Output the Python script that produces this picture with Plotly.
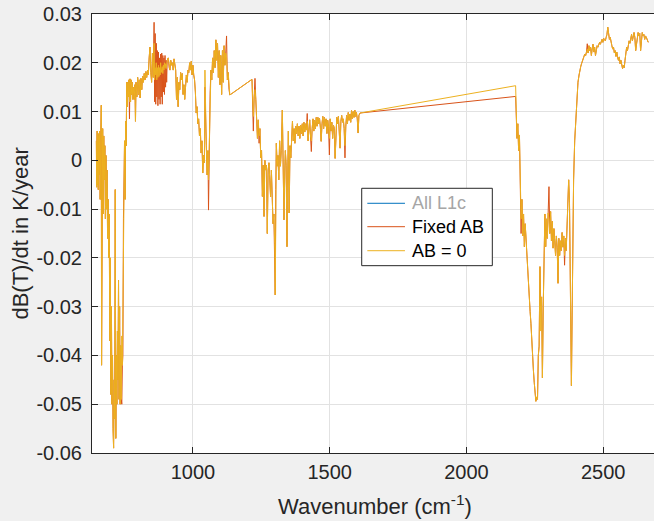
import plotly.graph_objects as go

# ---------------- data ----------------
wn_a = [647, 648, 650, 651, 653, 654, 656, 657, 659, 661,
        663, 665, 666, 668, 670, 672, 674, 676, 678, 680,
        682, 684, 686, 688, 690, 692, 694, 696, 698, 700,
        702, 704, 706, 708, 710, 712, 714, 716, 718, 720,
        722, 724, 726, 728, 730, 732, 734, 736, 738, 740,
        742, 744, 746, 748, 750, 752, 754, 756, 758, 760]
ab0_a = [0.004, -0.0055, 0.006, -0.005, 0.0055, -0.006, 0.005, -0.003, 0.006, -0.008,
         0.004, 0.0113, -0.042, 0.002, 0.0065, -0.011, 0.005, -0.004, 0.003, -0.012,
         0.001, -0.01, -0.002, -0.016, -0.008, -0.02, -0.011, -0.037, -0.02, -0.048,
         -0.03, -0.05, -0.04, -0.055, -0.059, -0.045, -0.053, -0.006, -0.057, -0.04,
         -0.05, -0.035, -0.045, -0.0246, -0.049, -0.03, -0.05, -0.038, -0.049, -0.036,
         -0.042, -0.026, -0.012, -0.003, 0.004, -0.008, 0.008, 0.003, 0.016, 0.011]

wn_b = [762, 764, 766, 768, 770, 772, 774, 776, 778, 780,
        782, 785, 788, 790, 792, 795, 798, 801, 804, 807,
        810, 813, 816, 819, 822, 825, 828, 831, 834, 837,
        840, 843, 846, 849, 852, 855]
ab0_b = [0.016, 0.013, 0.0165, 0.012, 0.0167, 0.012, 0.0165, 0.0135, 0.016, 0.0125,
         0.015, 0.0125, 0.0155, 0.008, 0.016, 0.013, 0.017, 0.0135, 0.0165, 0.0128,
         0.0168, 0.0145, 0.0172, 0.016, 0.0178, 0.0165, 0.0182, 0.017, 0.0185, 0.0175,
         0.021, 0.0232, 0.018, 0.016, 0.022, 0.017]

wn_c = [858, 860, 862, 864, 866, 868, 870, 872, 874, 876,
        878, 880, 882, 884, 886, 888, 890, 892, 894, 896,
        898, 900, 902, 904,
        906, 910, 913, 916, 919, 922, 925, 928, 931, 934,
        937, 940, 943, 946, 949, 952, 955, 958, 961, 964,
        967, 970, 973, 976, 979, 982, 985, 988, 991, 994,
        997, 1000]
ab0_c = [0.024, 0.0165, 0.019, 0.0175, 0.02, 0.0165, 0.019, 0.017, 0.0195, 0.0172,
         0.019, 0.0175, 0.02, 0.018, 0.0185, 0.0192, 0.0178, 0.0195, 0.0185, 0.02,
         0.019, 0.0198, 0.0188, 0.02,
         0.0205, 0.021, 0.019, 0.0185, 0.0205, 0.0195, 0.02, 0.0185, 0.0208, 0.019,
         0.0185, 0.0125, 0.017, 0.011, 0.016, 0.0145, 0.018, 0.0165, 0.0178, 0.0135,
         0.0155, 0.0125, 0.0165, 0.0175, 0.016, 0.0185, 0.018, 0.02, 0.0185, 0.0203,
         0.0175, 0.0195]

wn_d = [1003, 1006, 1009, 1012, 1015, 1018, 1021, 1024, 1027, 1030,
        1033, 1036, 1039, 1042, 1044, 1046, 1049, 1052, 1055, 1057,
        1060, 1063, 1066, 1069, 1072, 1075, 1078, 1081, 1084, 1087,
        1090, 1093, 1096, 1099, 1102, 1105, 1108, 1111, 1114, 1117,
        1120, 1123, 1126, 1129, 1132, 1135]
ab0_d = [0.0175, 0.0165, 0.014, 0.0097, 0.011, 0.0075, 0.0085, 0.005, 0.0065, 0.0015,
         0.004, -0.0026, 0.001, -0.0005, 0.0185, 0.008, 0.003, -0.003, 0.002, -0.004,
         0.005, 0.014, 0.0185, 0.0165, 0.021, 0.018, 0.0225, 0.019, 0.0247, 0.0205,
         0.024, 0.017, 0.0225, 0.0155, 0.0215, 0.0135, 0.0225, 0.016, 0.0235, 0.0195,
         0.022, 0.021, 0.0165, 0.018, 0.0145, 0.0134]

wn_e = [1216, 1219, 1221, 1224, 1227, 1230, 1233, 1236, 1239, 1242,
        1245, 1248, 1251, 1254, 1257, 1260, 1263, 1266, 1269, 1272,
        1275, 1278, 1281, 1284, 1287, 1290, 1293, 1296, 1299, 1301,
        1303, 1305, 1308, 1311, 1314, 1317, 1320, 1323, 1327, 1330,
        1333, 1336, 1338, 1341, 1344, 1346, 1349, 1352, 1355, 1358,
        1361, 1364, 1367, 1370, 1373, 1376, 1379, 1382, 1385, 1388,
        1391, 1394, 1397, 1400, 1403, 1406, 1409, 1412, 1415, 1418,
        1421, 1424, 1427, 1430, 1433, 1436, 1439, 1442, 1445, 1448,
        1451, 1454, 1457, 1460, 1463, 1466, 1469, 1472, 1475, 1478,
        1481, 1484, 1487, 1490, 1493, 1496, 1499, 1502, 1505, 1508,
        1511, 1514, 1517, 1520, 1523, 1526, 1529, 1532, 1535, 1538,
        1541, 1544, 1547, 1550, 1553, 1556, 1559, 1562, 1565, 1568,
        1571, 1574, 1577, 1580, 1583, 1586, 1589, 1592, 1595, 1598,
        1601, 1604, 1607, 1611]
ab0_e = [0.0166, 0.0103, 0.009, 0.013, 0.0145, 0.0125, 0.0085, 0.0045, 0.0083, 0.005,
         0.0065, 0.0005, 0.002, -0.0074, -0.001, -0.0115, 0.0, -0.002, -0.001, -0.015,
         -0.002, -0.0005, -0.004, -0.0075, -0.002, -0.0105, -0.013, -0.011, -0.017, -0.0276,
         -0.006, 0.0035, -0.0012, 0.001, -0.004, 0.004, -0.0012, 0.002, 0.0103, -0.005,
         -0.0122, -0.002, 0.002, -0.001, -0.0177, -0.006, 0.006, -0.0108, 0.003, 0.0005,
         0.006, 0.008, 0.004, 0.0065, 0.0035, 0.007, 0.0055, 0.0075, 0.005, 0.007,
         0.0045, 0.0072, 0.0055, 0.0075, 0.005, 0.0078, 0.0058, 0.0075, 0.0062, 0.008,
         0.004, 0.0068, 0.0083, 0.005, 0.004, 0.0065, 0.0085, 0.006, 0.0082, 0.0065,
         0.0088, 0.007, 0.0088, 0.0075, 0.0086, 0.0068, 0.0039, 0.0075, 0.009, 0.0065,
         0.0088, 0.007, 0.0085, 0.0055, 0.0082, 0.0068, 0.0045, 0.0085, 0.006, 0.0078,
         0.0045, 0.0072, 0.0065, 0.0004, 0.007, 0.0088, 0.0075, 0.009, 0.006, 0.0025,
         0.008, 0.0092, 0.0078, 0.0085, 0.0065, 0.003, 0.007, 0.0092, 0.0075, 0.0098,
         0.0082, 0.0095, 0.0078, 0.0102, 0.0085, 0.01, 0.0088, 0.0103, 0.009, 0.0098,
         0.0085, 0.0056, 0.0092, 0.0097]

wn_f = [2180, 2182, 2185, 2188, 2191, 2194, 2197, 2200, 2203, 2206,
        2209, 2212, 2215, 2218, 2221, 2224, 2227, 2230, 2233, 2236,
        2239, 2242, 2245, 2248, 2251, 2254, 2257, 2260, 2263, 2266,
        2269, 2272, 2275, 2278, 2281, 2284, 2287, 2290, 2293, 2296,
        2299, 2302, 2305, 2308, 2311, 2314, 2317, 2320, 2323, 2326,
        2329, 2332, 2335, 2338, 2341, 2344, 2347, 2350, 2353, 2356,
        2359, 2362, 2365, 2368, 2371, 2374, 2377, 2380, 2384, 2386,
        2389, 2392, 2396, 2400, 2404, 2408]
ab0_f = [0.0153, 0.008, 0.0045, 0.0075, 0.002, 0.0052, -0.006, -0.012, -0.008, -0.0155,
         -0.011, -0.0177, -0.013, -0.016, -0.0215, -0.0224, -0.025, -0.0299, -0.031, -0.0334,
         -0.0375, -0.0409, -0.043, -0.0455, -0.047, -0.0494, -0.0485, -0.049, -0.04, -0.0381,
         -0.0218, -0.035, -0.028, -0.0446, -0.03, -0.0155, -0.011, -0.0177, -0.012, -0.016,
         -0.0108, -0.012, -0.015, -0.0105, -0.0165, -0.0125, -0.018, -0.014, -0.0165, -0.0195,
         -0.0155, -0.0178, -0.0252, -0.016, -0.0195, -0.0165, -0.0185, -0.0148, -0.0178, -0.0155,
         -0.0195, -0.016, -0.0185, -0.012, -0.0095, -0.004, -0.0085, -0.03, -0.0462, -0.035,
         -0.015, -0.004, 0.004, 0.009, 0.0125, 0.016]

wn_g = [2412, 2415, 2418, 2421, 2424, 2427, 2430, 2433, 2436, 2439,
        2442, 2445, 2448, 2451, 2454, 2457, 2460, 2463, 2466, 2469,
        2472, 2475, 2478, 2481, 2484, 2487, 2490, 2493, 2496, 2499,
        2502, 2505, 2508, 2511, 2514, 2517, 2520, 2523, 2526, 2529,
        2532, 2535, 2538, 2541, 2544, 2547, 2550, 2553, 2556, 2559,
        2562, 2565, 2568, 2571, 2574, 2577, 2580, 2583, 2586, 2589,
        2592, 2595, 2598, 2601, 2604, 2607, 2610, 2613, 2616, 2619,
        2622, 2625, 2628, 2631, 2634, 2637, 2640, 2643, 2646, 2649,
        2652, 2655, 2658, 2661, 2665]
ab0_g = [0.0175, 0.0187, 0.0192, 0.0198, 0.0203, 0.0208, 0.0212, 0.0218, 0.0215, 0.0222,
         0.0228, 0.022, 0.0235, 0.0225, 0.0232, 0.0215, 0.023, 0.0238, 0.0222, 0.0232,
         0.0215, 0.0228, 0.0235, 0.0232, 0.0238, 0.0242, 0.0238, 0.0245, 0.0248, 0.0242,
         0.025, 0.0248, 0.0245, 0.0252, 0.0258, 0.0273, 0.0255, 0.0248, 0.0252, 0.0238,
         0.0235, 0.0228, 0.0232, 0.022, 0.0225, 0.0213, 0.0222, 0.0211, 0.0205, 0.0212,
         0.0198, 0.0205, 0.0192, 0.0188, 0.0195, 0.019, 0.0205, 0.0218, 0.0232, 0.0225,
         0.0238, 0.0245, 0.024, 0.0252, 0.0258, 0.0245, 0.0255, 0.0262, 0.0252, 0.0225,
         0.0238, 0.0258, 0.0262, 0.0255, 0.026, 0.0225, 0.0248, 0.0262, 0.0255, 0.0258,
         0.0248, 0.0255, 0.0252, 0.0245, 0.0242]

# channels where the "Fixed AB" curve departs from "AB = 0"
fixed_diff_wn = [740, 744, 768,
                 858, 860, 862, 864, 866, 868, 870, 872, 874, 876,
                 878, 880, 882, 884, 886, 888, 890, 892, 894, 896,
                 898, 900, 902, 904,
                 1044, 1057, 1123, 1221, 1227, 1242, 1299, 1418, 1433, 1499, 1556,
                 2180, 2182, 2200, 2272, 2302, 2359, 2442]
fixed_diff_val = [-0.05, -0.04, 0.0085,
                  0.0283, 0.012, 0.026, 0.0115, 0.024, 0.013, 0.0225, 0.0112, 0.0222, 0.0125,
                  0.021, 0.0115, 0.0218, 0.013, 0.022, 0.0115, 0.0215, 0.014, 0.021, 0.0135,
                  0.0215, 0.015, 0.0205, 0.016,
                  0.015, -0.0102, 0.0255, 0.006, 0.0168, 0.0035, -0.0205, 0.0096, 0.0018, 0.0011, 0.0005,
                  0.0131, 0.0062, -0.015, -0.03, -0.0054, -0.0215, 0.0239]

x_tick_vals = [1000, 1500, 2000, 2500]
x_tick_text = ["1000", "1500", "2000", "2500"]
y_tick_vals = [0.03, 0.02, 0.01, 0, -0.01, -0.02, -0.03, -0.04, -0.05, -0.06]
y_tick_text = ["0.03", "0.02", "0.01", "0", "-0.01", "-0.02", "-0.03", "-0.04", "-0.05", "-0.06"]

series_names = ["All L1c", "Fixed AB", "AB = 0"]
series_colors = ["#0072BD", "#D95319", "#EDB120"]
legend_text_colors = ["#a6a6a6", "#000000", "#000000"]   # hidden series is greyed

# ---------------- assemble ----------------
segments = [(wn_a, ab0_a), (wn_b, ab0_b), (wn_c, ab0_c), (wn_d, ab0_d),
            (wn_e, ab0_e), (wn_f, ab0_f), (wn_g, ab0_g)]
wavenumber, ab_zero = [], []
for w, v in segments:
    assert len(w) == len(v), (w[0], len(w), len(v))
    wavenumber += w
    ab_zero += v
assert len(fixed_diff_wn) == len(fixed_diff_val)
diff = dict(zip(fixed_diff_wn, fixed_diff_val))
fixed_ab = [diff.get(w, v) for w, v in zip(wavenumber, ab_zero)]

FONT = "Liberation Sans, Arial, Helvetica, sans-serif"
AX = "#262626"

fig = go.Figure()
fig.add_trace(go.Scatter(x=wavenumber, y=fixed_ab, mode="lines", name=series_names[0],
                         line=dict(color=series_colors[0], width=1), visible="legendonly",
                         showlegend=False))
fig.add_trace(go.Scatter(x=wavenumber, y=fixed_ab, mode="lines", name=series_names[1],
                         line=dict(color=series_colors[1], width=1), showlegend=False))
fig.add_trace(go.Scatter(x=wavenumber, y=ab_zero, mode="lines", name=series_names[2],
                         line=dict(color=series_colors[2], width=1), showlegend=False))

# ---- MATLAB-style legend box (drawn in paper coordinates) ----
box = dict(x0=0.4799, x1=0.7123, y0=0.4267, y1=0.6030)
row_y = [0.5688, 0.5155, 0.4608]
sample_x = (0.4899, 0.5569)
label_x = 0.5658
shapes = [dict(type="rect", xref="paper", yref="paper", **box,
               line=dict(color=AX, width=1), fillcolor="white", layer="above")]
annotations = []
for name, col, tcol, yy in zip(series_names, series_colors, legend_text_colors, row_y):
    shapes.append(dict(type="line", xref="paper", yref="paper",
                       x0=sample_x[0], x1=sample_x[1], y0=yy, y1=yy,
                       line=dict(color=col, width=1), layer="above"))
    annotations.append(dict(text=name, xref="paper", yref="paper", x=label_x, y=yy,
                            xanchor="left", yanchor="middle", showarrow=False,
                            font=dict(size=18, color=tcol)))

annotations += [
    dict(text="Wavenumber (cm<sup>-1</sup>)", xref="paper", yref="paper",
         x=0.5036, y=-0.118, xanchor="center", yanchor="middle", showarrow=False,
         font=dict(size=22, color=AX)),
    dict(text="dB(T)/dt in K/year", xref="paper", yref="paper",
         x=-0.128, y=0.5, xanchor="center", yanchor="middle", showarrow=False,
         textangle=-90, font=dict(size=22, color=AX)),
]

fig.update_layout(
    width=654, height=521,
    margin=dict(l=92, r=0, t=14, b=68),
    paper_bgcolor="#f0f0f0", plot_bgcolor="white",
    font=dict(family=FONT, color=AX, size=20),
    showlegend=False,
    shapes=shapes,
    annotations=annotations,
    xaxis=dict(range=[631, 2686], tickvals=x_tick_vals, ticktext=x_tick_text,
               ticks="inside", ticklen=6, tickcolor=AX, showline=True, linecolor=AX,
               linewidth=1, mirror="ticks", showgrid=True, gridcolor="#e2e2e2",
               zeroline=False, tickfont=dict(size=20), ticklabelstandoff=1),
    yaxis=dict(range=[-0.06, 0.03], tickvals=y_tick_vals, ticktext=y_tick_text,
               ticks="inside", ticklen=6, tickcolor=AX, showline=True, linecolor=AX,
               linewidth=1, mirror=False, showgrid=True, gridcolor="#e2e2e2",
               zeroline=False, tickfont=dict(size=20), ticklabelstandoff=5),
)

fig.write_html("out.html", config={"displayModeBar": False},
               post_script="document.body.style.margin='0';document.body.style.padding='0';")
